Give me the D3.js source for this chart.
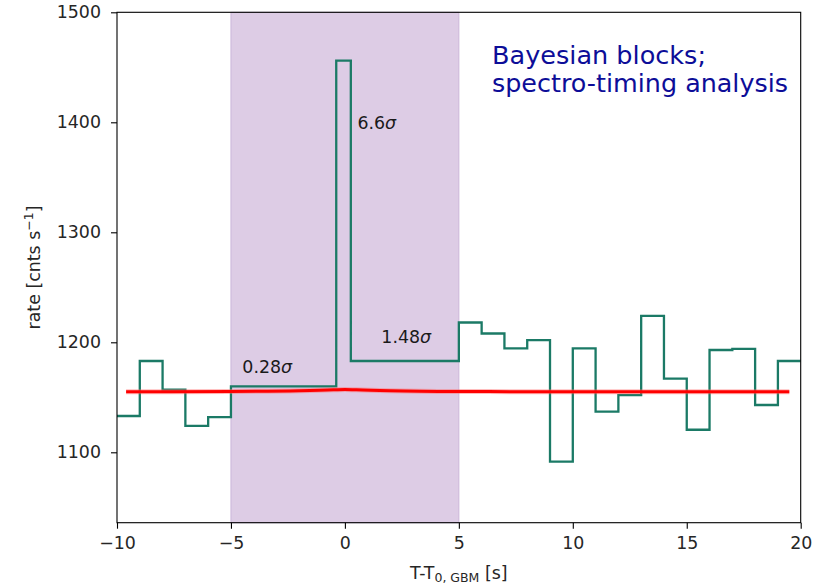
<!DOCTYPE html>
<html>
<head>
<meta charset="utf-8">
<script src="https://cdn.jsdelivr.net/npm/d3@7"></script>
<style>
  html, body { margin: 0; padding: 0; background: #fff; }
  svg { display: block; }
  text { font-family: "DejaVu Sans", sans-serif; }
</style>
</head>
<body>
<svg id="chart" width="823" height="586"></svg>
<script>
// Bayesian-block light curve: block edges (s) and block rates (counts/s)
const blockEdges = [-10, -9, -8, -7, -6, -5, -0.38, 0.26, 5, 6, 7, 8, 9, 10, 11, 12, 13, 14, 15, 16, 17, 18, 19, 20];
const blockRates = [1133, 1183, 1157, 1124, 1132, 1160, 1456, 1183, 1218, 1208, 1194.5, 1202, 1091.5, 1194.5, 1137, 1152, 1224, 1167, 1120.5, 1193, 1194, 1143, 1183];

// Background model curve
const modelTimes = [-9.6, -5, -2, -0.5, 0, 0.5, 2, 5, 10, 19.5];
const modelRates = [1155, 1155.3, 1156, 1156.8, 1157.2, 1156.8, 1156, 1155.3, 1155, 1155];

// Analysis window
const windowStart = -5;
const windowEnd = 5;

// Significance annotations
const annoText = ["0.28", "6.6", "1.48"];
const annoX = [-4.5, 0.55, 1.6];
const annoY = [1172, 1394, 1199];

const xTicks = [-10, -5, 0, 5, 10, 15, 20];
const yTicks = [1100, 1200, 1300, 1400, 1500];

const svg = d3.select("#chart");
const plotL = 117, plotR = 800.7, plotT = 12.3, plotB = 522.7;

const x = d3.scaleLinear().domain([-10, 20]).range([plotL, plotR]);
const y = d3.scaleLinear().domain([1036, 1500]).range([plotB, plotT]);

// shaded window
svg.append("rect")
  .attr("x", x(windowStart)).attr("y", plotT)
  .attr("width", x(windowEnd) - x(windowStart)).attr("height", plotB - plotT)
  .attr("fill", "#ddcce5").attr("stroke", "#cbb6d9").attr("stroke-width", 1);

// step curve
const stepPts = [];
blockRates.forEach((r, i) => {
  stepPts.push([blockEdges[i], r]);
  stepPts.push([blockEdges[i + 1], r]);
});
const line = d3.line().x(d => x(d[0])).y(d => y(d[1]));
svg.append("path")
  .attr("d", line(stepPts))
  .attr("fill", "none").attr("stroke", "#1b7a66").attr("stroke-width", 2.3)
  .attr("stroke-linejoin", "miter");

// model curve
const modelPts = modelTimes.map((t, i) => [t, modelRates[i]]);
const curve = d3.line().x(d => x(d[0])).y(d => y(d[1])).curve(d3.curveMonotoneX);
svg.append("path")
  .attr("d", curve(modelPts))
  .attr("fill", "none").attr("stroke", "#ff6b6b").attr("stroke-opacity", 0.45).attr("stroke-width", 5);
svg.append("path")
  .attr("d", curve(modelPts))
  .attr("fill", "none").attr("stroke", "#ff0000").attr("stroke-width", 3);

// annotations
annoText.forEach((t, i) => {
  const tx = svg.append("text")
    .attr("x", x(annoX[i])).attr("y", y(annoY[i]))
    .attr("font-size", 17.4).attr("fill", "#1a1a1a");
  tx.append("tspan").text(t);
  tx.append("tspan").attr("font-style", "italic").text("σ");
});

// axes
const xAxis = svg.append("g").attr("transform", `translate(0,${plotB})`)
  .call(d3.axisBottom(x).tickValues(xTicks).tickSize(6).tickPadding(8).tickSizeOuter(0));
const yAxis = svg.append("g").attr("transform", `translate(${plotL},0)`)
  .call(d3.axisLeft(y).tickValues(yTicks).tickFormat(d3.format("d")).tickSize(6).tickPadding(10).tickSizeOuter(0));
[xAxis, yAxis].forEach(g => {
  g.selectAll("text").attr("font-family", "DejaVu Sans").attr("font-size", 17.4).attr("fill", "#262626");
  g.selectAll("line").attr("stroke", "#000").attr("stroke-width", 1.1);
  g.select(".domain").remove();
});

// frame
svg.append("rect")
  .attr("x", plotL).attr("y", plotT).attr("width", plotR - plotL).attr("height", plotB - plotT)
  .attr("fill", "none").attr("stroke", "#000").attr("stroke-width", 1.1);

// axis labels
const xl = svg.append("text")
  .attr("x", (plotL + plotR) / 2).attr("y", 579)
  .attr("text-anchor", "middle").attr("font-size", 17.4).attr("fill", "#262626");
xl.append("tspan").text("T-T");
xl.append("tspan").attr("font-size", 12.5).attr("dy", 3).text("0, GBM");
xl.append("tspan").attr("dy", -3).text(" [s]");

const yl = svg.append("text")
  .attr("transform", `translate(40,${(plotT + plotB) / 2}) rotate(-90)`)
  .attr("text-anchor", "middle").attr("font-size", 17.4).attr("fill", "#262626");
yl.append("tspan").text("rate [cnts s");
yl.append("tspan").attr("font-size", 12.5).attr("dy", -7).text("−1");
yl.append("tspan").attr("dy", 7).text("]");

// method note
const note = ["Bayesian blocks;", "spectro-timing analysis"];
const noteBase = [63.5, 92];
const noteWidth = [214, 296];
note.forEach((t, i) => {
  svg.append("text")
    .attr("x", 492).attr("y", noteBase[i])
    .attr("font-family", "Lato, 'Open Sans', sans-serif").attr("font-size", 25.5)
    .attr("fill", "#0d0d98")
    .attr("textLength", noteWidth[i]).attr("lengthAdjust", "spacingAndGlyphs")
    .text(t);
});
</script>
</body>
</html>
